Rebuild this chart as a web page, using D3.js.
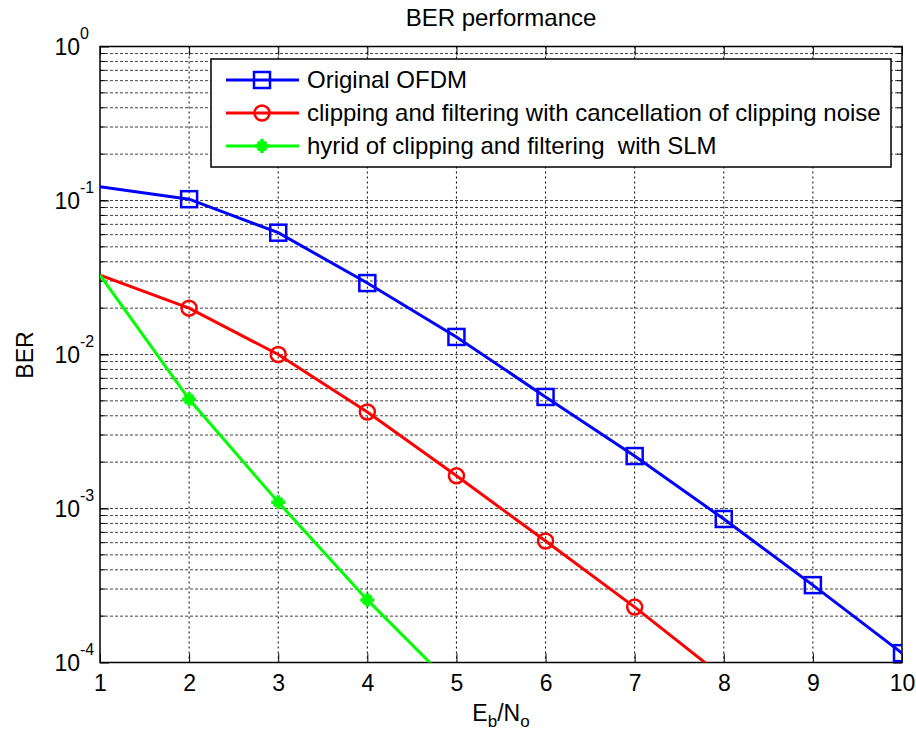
<!DOCTYPE html>
<html><head><meta charset="utf-8">
<script src="https://cdn.jsdelivr.net/npm/d3@7/dist/d3.min.js"></script>
<style>
body{margin:0;background:#fff;}
text{font-family:"Liberation Sans",Arial,Helvetica,sans-serif;fill:#000;white-space:pre;}
</style></head>
<body><svg id="c" width="916" height="735"></svg>
<script>
const ebno = [1,2,3,4,5,6,7,8,9,10];
const originalOFDM = [0.123,0.102,0.0618,0.0291,0.013,0.0053,0.00219,0.000855,0.000318,0.000115];
const clipCancel = [0.0328,0.02,0.01,0.00423,0.00163,0.000615,0.000229,0.00008];
const hybridSLM = [0.0328,0.00512,0.0011,0.000255,0.000067];
const xTicks = [1,2,3,4,5,6,7,8,9,10];
const yExps = [0,-1,-2,-3,-4];
const legendLabels = ["Original OFDM","clipping and filtering with cancellation of clipping noise","hyrid of clipping and filtering  with SLM"];
const colors = ["#0000ff","#ff0000","#00ff00"];

const L=100,R=902,T=46.5,B=662.5;
const svg=d3.select("#c");
const x=d3.scaleLinear().domain([1,10]).range([L,R]);
const y=d3.scaleLog().domain([1e-4,1]).range([B,T]);
const FS=23;

// grid
const minorVals=[];
for(let e=-4;e<0;e++){for(let m=1;m<10;m++){minorVals.push(m*Math.pow(10,e));}}
const g=svg.append("g");
g.selectAll("line.hg").data(minorVals.filter(v=>v>1e-4)).enter().append("line")
 .attr("x1",L).attr("x2",R).attr("y1",d=>y(d)).attr("y2",d=>y(d))
 .attr("stroke","#444").attr("stroke-width",1).attr("stroke-dasharray","3,2");
g.selectAll("line.vg").data(xTicks.slice(1,-1)).enter().append("line")
 .attr("x1",d=>x(d)).attr("x2",d=>x(d)).attr("y1",T).attr("y2",B)
 .attr("stroke","#000").attr("stroke-width",1).attr("stroke-dasharray","2,3");

// minor ticks left/right
g.selectAll("line.mtl").data(minorVals.filter(v=>v>1e-4)).enter().append("line")
 .attr("x1",L).attr("x2",L+5).attr("y1",d=>y(d)).attr("y2",d=>y(d)).attr("stroke","#000");
g.selectAll("line.mtr").data(minorVals.filter(v=>v>1e-4)).enter().append("line")
 .attr("x1",R).attr("x2",R-5).attr("y1",d=>y(d)).attr("y2",d=>y(d)).attr("stroke","#000");

// axes
const xa=d3.axisBottom(x).tickValues(xTicks).tickSize(-9).tickPadding(14).tickFormat(d3.format("d"));
const gx=svg.append("g").attr("transform",`translate(0,${B})`).call(xa);
gx.select(".domain").remove();
gx.selectAll("text").attr("font-size",FS).attr("font-family","Liberation Sans, Arial").attr("fill","#000").attr("dy","0.71em").attr("y",12);
const xt=d3.axisTop(x).tickValues(xTicks).tickSize(-9).tickFormat("");
const gxt=svg.append("g").attr("transform",`translate(0,${T})`).call(xt);
gxt.select(".domain").remove();

const ya=d3.axisLeft(y).tickValues(yExps.map(e=>Math.pow(10,e))).tickSize(-9).tickPadding(20).tickFormat("");
const gy=svg.append("g").attr("transform",`translate(${L},0)`).call(ya);
gy.select(".domain").remove();
const yr=d3.axisRight(y).tickValues(yExps.map(e=>Math.pow(10,e))).tickSize(-9).tickFormat("");
const gyr=svg.append("g").attr("transform",`translate(${R},0)`).call(yr);
gyr.select(".domain").remove();
svg.selectAll(".tick line").attr("stroke","#000");

// y tick labels with superscripts
yExps.forEach(e=>{
  const yy=y(Math.pow(10,e));
  svg.append("text").attr("x",80).attr("y",yy+8).attr("text-anchor","end").attr("font-size",FS).text("10");
  svg.append("text").attr("x",80).attr("y",yy-8).attr("text-anchor","start").attr("font-size",16).text(String(e));
});

// box
svg.append("rect").attr("x",L).attr("y",T).attr("width",R-L).attr("height",B-T)
 .attr("fill","none").attr("stroke","#000").attr("stroke-width",1.5);

// clip
svg.append("clipPath").attr("id","pc").append("rect").attr("x",L).attr("y",T).attr("width",R-L).attr("height",B-T);

const series=[originalOFDM,clipCancel,hybridSLM];
const line=d3.line().x((d,i)=>x(ebno[i])).y(d=>y(d));
const pl=svg.append("g").attr("clip-path","url(#pc)");
series.forEach((s,k)=>{
  pl.append("path").attr("d",line(s)).attr("fill","none").attr("stroke",colors[k]).attr("stroke-width",3);
});

function marker(gg,k,cx,cy){
  if(k===0){
    gg.append("rect").attr("x",cx-8).attr("y",cy-8).attr("width",16).attr("height",16)
      .attr("fill","none").attr("stroke",colors[0]).attr("stroke-width",2.5);
  } else if(k===1){
    gg.append("circle").attr("cx",cx).attr("cy",cy).attr("r",7.5)
      .attr("fill","none").attr("stroke",colors[1]).attr("stroke-width",2.5);
  } else {
    const r=7;
    const p=`M${cx-r},${cy}L${cx+r},${cy}M${cx},${cy-r}L${cx},${cy+r}M${cx-r*0.6},${cy-r*0.6}L${cx+r*0.6},${cy+r*0.6}M${cx-r*0.6},${cy+r*0.6}L${cx+r*0.6},${cy-r*0.6}`;
    gg.append("path").attr("d",p).attr("stroke",colors[2]).attr("stroke-width",3.5).attr("fill","none");
  }
}
series.forEach((s,k)=>{
  s.forEach((v,i)=>{
    if(v>=1e-4 && !(i===0)) marker(pl,k,x(ebno[i]),y(v));
  });
});

// legend
const lg=svg.append("g");
lg.append("rect").attr("x",211).attr("y",59).attr("width",680).attr("height",108)
  .attr("fill","#fff").attr("stroke","#000").attr("stroke-width",1.5);
const rowsY=[80,113,146];
legendLabels.forEach((t,k)=>{
  lg.append("line").attr("x1",226).attr("x2",299).attr("y1",rowsY[k]).attr("y2",rowsY[k])
    .attr("stroke",colors[k]).attr("stroke-width",3);
  marker(lg,k,262,rowsY[k]);
  lg.append("text").attr("x",307).attr("y",rowsY[k]+8).attr("font-size",24).text(t);
});

// title and labels
svg.append("text").attr("x",501).attr("y",26).attr("text-anchor","middle").attr("font-size",24).text("BER performance");
const xl=svg.append("text").attr("x",501).attr("y",721).attr("text-anchor","middle").attr("font-size",FS);
xl.append("tspan").text("E");
xl.append("tspan").attr("font-size",17).attr("dy",6).text("b");
xl.append("tspan").attr("dy",-6).text("/N");
xl.append("tspan").attr("font-size",17).attr("dy",6).text("o");
svg.append("text").attr("transform","translate(33,355) rotate(-90)").attr("text-anchor","middle").attr("font-size",FS).text("BER");
</script></body></html>
